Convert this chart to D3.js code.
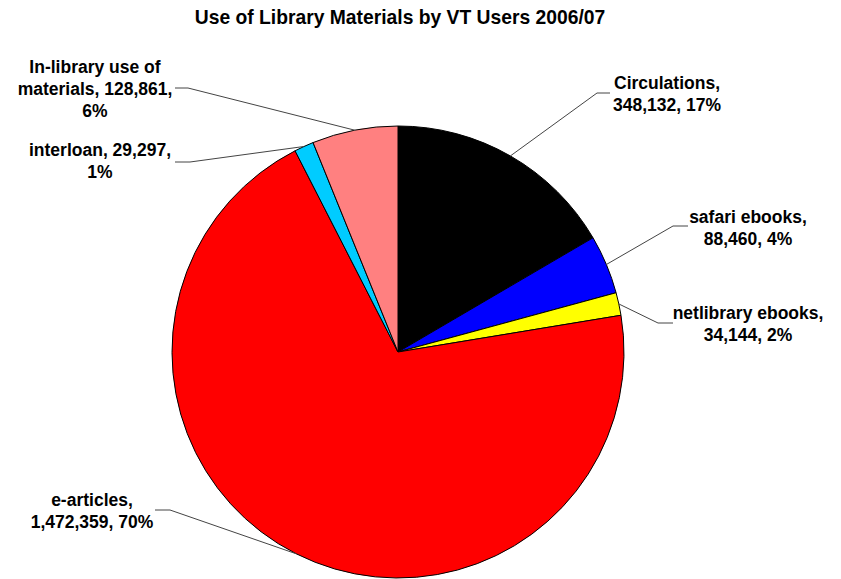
<!DOCTYPE html>
<html>
<head>
<meta charset="utf-8">
<script src="https://cdn.jsdelivr.net/npm/d3@7"></script>
<style>
  body { margin: 0; background: #fff; }
  text { font-family: "Liberation Sans", Arial, sans-serif; font-weight: bold; fill: #000; }
</style>
</head>
<body>
<div id="chart"></div>
<script>
//data
const title = "Use of Library Materials by VT Users 2006/07";
const categories = ["Circulations", "safari ebooks", "netlibrary ebooks", "e-articles", "interloan", "In-library use of materials"];
const values = [348132, 88460, 34144, 1472359, 29297, 128861];
const colors = ["#000000", "#0000ff", "#ffff00", "#ff0000", "#00ccff", "#ff8080"];

//layout of labels: words on each line, label centre, elbow of leader line, end of leader line
const labelLayout = [
  {words: [1, 2], x: 667, y: 83, elbow: [597, 93], end: [610, 93]},
  {words: [2, 2], x: 748, y: 217, elbow: [673, 226], end: [688, 226]},
  {words: [2, 2], x: 748, y: 313, elbow: [658, 323], end: [673, 323]},
  {words: [1, 2], x: 92, y: 500, elbow: [170, 510], end: [155, 510]},
  {words: [2, 1], x: 100, y: 150, elbow: [190, 162], end: [175, 162]},
  {words: [3, 2, 1], x: 95, y: 67, elbow: [188, 88], end: [175, 88]}
];

const width = 841, height = 579,
    cx = 398, cy = 352, radius = 226,
    lineHeight = 22;

const svg = d3.select("#chart").append("svg")
    .attr("width", width)
    .attr("height", height);

svg.append("text")
    .attr("x", 400)
    .attr("y", 24)
    .attr("text-anchor", "middle")
    .style("font-size", "19.3px")
    .text(title);

const total = d3.sum(values);
const fmt = d3.format(",");

const data = categories.map((c, i) => ({name: c, value: values[i], color: colors[i], layout: labelLayout[i]}));

const pie = d3.pie().sort(null).value(d => d.value);
const arc = d3.arc().innerRadius(0).outerRadius(radius);
const edge = d3.arc().innerRadius(radius).outerRadius(radius);

const g = svg.append("g").attr("transform", "translate(" + cx + "," + cy + ")");
const arcs = pie(data);

g.selectAll("path.slice")
    .data(arcs)
    .enter().append("path")
    .attr("class", "slice")
    .attr("d", arc)
    .attr("fill", d => d.data.color)
    .attr("stroke", "#000")
    .attr("stroke-width", 1);

//leader lines
svg.append("g").selectAll("polyline")
    .data(arcs)
    .enter().append("polyline")
    .attr("fill", "none")
    .attr("stroke", "#444")
    .attr("stroke-width", 1)
    .attr("points", d => {
      const p = edge.centroid(d);
      const L = d.data.layout;
      return [[p[0] + cx, p[1] + cy], L.elbow, L.end].map(q => q.join(",")).join(" ");
    });

//labels
arcs.forEach(d => {
  const L = d.data.layout;
  const pct = Math.round(d.data.value / total * 100) + "%";
  const words = (d.data.name + ", " + fmt(d.data.value) + ", " + pct).split(" ");
  let lines = [], k = 0;
  L.words.forEach(n => { lines.push(words.slice(k, k + n).join(" ")); k += n; });
  const t = svg.append("text")
      .attr("text-anchor", "middle")
      .style("font-size", "17.5px");
  lines.forEach((ln, i) => {
    t.append("tspan")
      .attr("x", L.x)
      .attr("y", L.y + i * lineHeight + 6)
      .text(ln);
  });
});
</script>
</body>
</html>
